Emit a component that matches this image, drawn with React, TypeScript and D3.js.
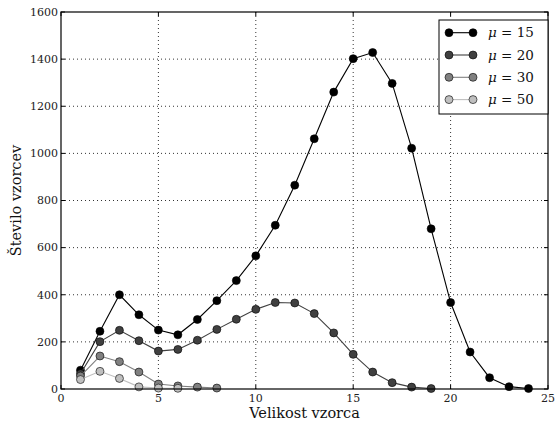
import React from 'react';
import * as d3 from 'd3';

const xValues = [1, 2, 3, 4, 5, 6, 7, 8, 9, 10, 11, 12, 13, 14, 15, 16, 17, 18, 19, 20, 21, 22, 23, 24];
const mu15 = [80, 245, 400, 315, 250, 230, 295, 375, 460, 565, 695, 865, 1062, 1260, 1402, 1428, 1297, 1022, 680, 367, 157, 48, 10, 2];
const mu20 = [65, 201, 249, 205, 161, 168, 207, 253, 296, 338, 367, 365, 320, 238, 147, 72, 27, 8, 2];
const mu30 = [55, 140, 116, 72, 21, 13, 8, 4];
const mu50 = [40, 75, 45, 9, 4, 3];
const xTicks = [0, 5, 10, 15, 20, 25];
const yTicks = [0, 200, 400, 600, 800, 1000, 1200, 1400, 1600];

const series = [
  { label: '15', values: mu15, color: '#000000' },
  { label: '20', values: mu20, color: '#404040' },
  { label: '30', values: mu30, color: '#808080' },
  { label: '50', values: mu50, color: '#bfbfbf' },
];

const W = 557;
const H = 427;
const margin = { left: 61, right: 9, top: 12, bottom: 38 };
const serif = { fontFamily: "'DejaVu Serif', serif" };

const App = () => {
  const width = W - margin.left - margin.right;
  const height = H - margin.top - margin.bottom;
  const x = d3.scaleLinear().domain([0, 25]).range([0, width]);
  const y = d3.scaleLinear().domain([0, 1600]).range([height, 0]);
  const line = d3
    .line<number>()
    .x((d, i) => x(xValues[i]))
    .y((d) => y(d));

  return (
    <div style={{ position: 'fixed', left: 0, top: 0 }}>
      <svg width={W} height={H} style={{ display: 'block', background: '#fff' }}>
        <g transform={`translate(${margin.left},${margin.top})`}>
          {/* grid */}
          {xTicks.slice(1, -1).map((t) => (
            <line key={'gx' + t} x1={x(t)} x2={x(t)} y1={0} y2={height} stroke="#000" strokeWidth={0.8} strokeDasharray="1,3" />
          ))}
          {yTicks.slice(1, -1).map((t) => (
            <line key={'gy' + t} x1={0} x2={width} y1={y(t)} y2={y(t)} stroke="#000" strokeWidth={0.8} strokeDasharray="1,3" />
          ))}
          {/* ticks inside */}
          {xTicks.map((t) => (
            <g key={'tx' + t}>
              <line x1={x(t)} x2={x(t)} y1={height} y2={height - 4} stroke="#000" />
              <line x1={x(t)} x2={x(t)} y1={0} y2={4} stroke="#000" />
              <text x={x(t)} y={height + 13} textAnchor="middle" style={serif} fontSize={11} fill="#222">
                {t}
              </text>
            </g>
          ))}
          {yTicks.map((t) => (
            <g key={'ty' + t}>
              <line x1={0} x2={4} y1={y(t)} y2={y(t)} stroke="#000" />
              <line x1={width} x2={width - 4} y1={y(t)} y2={y(t)} stroke="#000" />
              <text x={-3} y={y(t)} dy="0.35em" textAnchor="end" style={serif} fontSize={11} fill="#222">
                {t}
              </text>
            </g>
          ))}
          {/* lines */}
          {series.map((s) => (
            <g key={s.label}>
              <path d={line(s.values) || ''} fill="none" stroke={s.color} strokeWidth={1.1} />
              {s.values.map((v, i) => (
                <circle key={i} cx={x(xValues[i])} cy={y(v)} r={4} fill={s.color} stroke="#000" strokeWidth={0.6} />
              ))}
            </g>
          ))}
          <rect x={0} y={0} width={width} height={height} fill="none" stroke="#000" strokeWidth={1.2} />
          {/* legend */}
          <g transform={`translate(${width - 109},8)`}>
            <rect x={0} y={0} width={109} height={94} fill="#fff" stroke="#000" strokeWidth={1} />
            {series.map((s, i) => (
              <g key={s.label} transform={`translate(0,${12.7 + i * 22.3})`}>
                <line x1={10} x2={34} y1={0} y2={0} stroke={s.color} strokeWidth={1.1} />
                <circle cx={10} cy={0} r={4} fill={s.color} stroke="#000" strokeWidth={0.6} />
                <circle cx={34} cy={0} r={4} fill={s.color} stroke="#000" strokeWidth={0.6} />
                <text x={49} y={0} dy="0.35em" style={serif} fontSize={13.5} fill="#111">
                  <tspan fontStyle="italic">μ</tspan> = {s.label}
                </text>
              </g>
            ))}
          </g>
        </g>
        <text x={margin.left + width / 2} y={418} textAnchor="middle" style={serif} fontSize={14.5} fill="#111">
          Velikost vzorca
        </text>
        <text
          transform={`translate(21,${margin.top + height / 2}) rotate(-90)`}
          textAnchor="middle"
          style={serif}
          fontSize={14.5}
          fill="#111"
        >
          Število vzorcev
        </text>
      </svg>
    </div>
  );
};

export default App;
